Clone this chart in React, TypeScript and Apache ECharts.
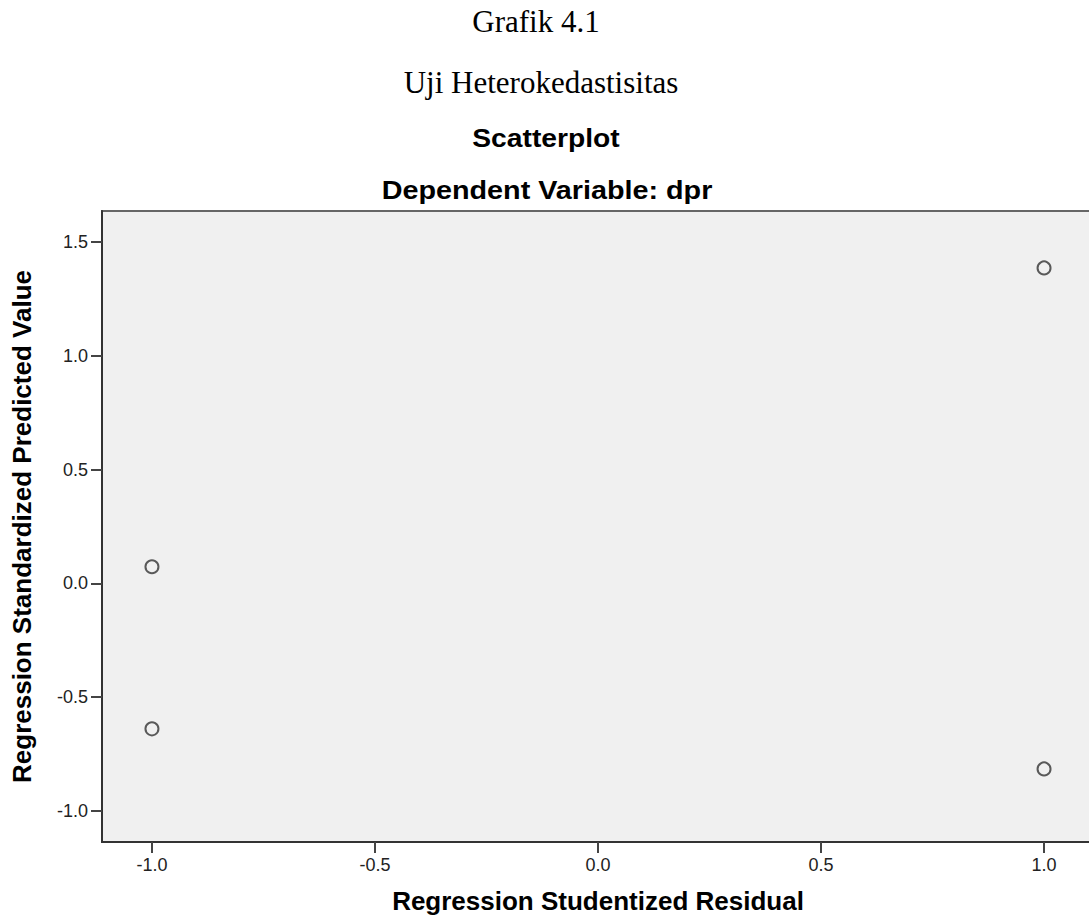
import React, { useEffect, useRef } from "react";
import * as echarts from "echarts";

const residuals = [-1.0, -1.0, 1.0, 1.0];
const predicted = [0.073, -0.639, 1.386, -0.815];
const xTicks = [-1.0, -0.5, 0.0, 0.5, 1.0];
const yTicks = [-1.0, -0.5, 0.0, 0.5, 1.0, 1.5];

const SANS = "'Liberation Sans', Arial, sans-serif";
const SERIF = "'Liberation Serif', 'Times New Roman', serif";

export default function App() {
  const ref = useRef<HTMLDivElement>(null);
  useEffect(() => {
    if (!ref.current) return;
    const chart = echarts.init(ref.current, undefined, { renderer: "svg" });
    const points = residuals.map((x, i) => [x, predicted[i]]);
    chart.setOption({
      animation: false,
      backgroundColor: "#ffffff",
      grid: {
        left: 102,
        top: 211,
        height: 631,
        right: 26,
        outerBoundsMode: "none",
        containLabel: false,
        show: true,
        backgroundColor: "#f0f0f0",
        borderColor: "#666666",
        borderWidth: 2,
      },
      graphic: [
        { type: "text", x: 536, y: 21, style: { text: "Grafik 4.1", font: `31px ${SERIF}`, fill: "#000", align: "center", verticalAlign: "middle" } },
        { type: "text", x: 541, y: 82, style: { text: "Uji Heterokedastisitas", font: `31px ${SERIF}`, fill: "#000", align: "center", verticalAlign: "middle" } },
        { type: "text", x: 546, y: 139, scaleX: 1.13, style: { text: "Scatterplot", font: `bold 25px ${SANS}`, fill: "#000", align: "center", verticalAlign: "middle" } },
        { type: "text", x: 547, y: 191, scaleX: 1.15, style: { text: "Dependent Variable: dpr", font: `bold 25px ${SANS}`, fill: "#000", align: "center", verticalAlign: "middle" } },
      ],
      xAxis: {
        type: "value",
        min: -1.112,
        max: 1.112,
        name: "Regression Studentized Residual",
        nameLocation: "middle",
        nameGap: 46,
        nameTextStyle: { fontFamily: SANS, fontWeight: "bold", fontSize: 26, color: "#000" },
        axisLine: { show: true, onZero: false, lineStyle: { color: "#333", width: 2 } },
        axisTick: { show: true, length: 11, customValues: xTicks, lineStyle: { color: "#444", width: 2 } },
        axisLabel: { customValues: xTicks, formatter: (v: number) => v.toFixed(1), fontFamily: SANS, fontSize: 18, color: "#222", margin: 14 },
        splitLine: { show: false },
      },
      yAxis: {
        type: "value",
        min: -1.136,
        max: 1.636,
        name: "Regression Standardized Predicted Value",
        nameLocation: "middle",
        nameGap: 67,
        nameRotate: 90,
        nameTextStyle: { fontFamily: SANS, fontWeight: "bold", fontSize: 26, color: "#000" },
        axisLine: { show: true, onZero: false, lineStyle: { color: "#333", width: 2 } },
        axisTick: { show: true, length: 11, customValues: yTicks, lineStyle: { color: "#444", width: 2 } },
        axisLabel: { customValues: yTicks, formatter: (v: number) => v.toFixed(1), fontFamily: SANS, fontSize: 18, color: "#222", margin: 14 },
        splitLine: { show: false },
      },
      series: [
        {
          type: "scatter",
          data: points,
          symbol: "circle",
          symbolSize: 13,
          itemStyle: { color: "rgba(0,0,0,0)", borderColor: "#333", borderWidth: 2 },
        },
      ],
    });
    return () => chart.dispose();
  }, []);
  return (
    <div style={{ position: "absolute", left: 0, top: 0, width: 1089, height: 919, overflow: "hidden", background: "#fff" }}>
      <div ref={ref} style={{ width: 1120, height: 919 }} />
    </div>
  );
}
